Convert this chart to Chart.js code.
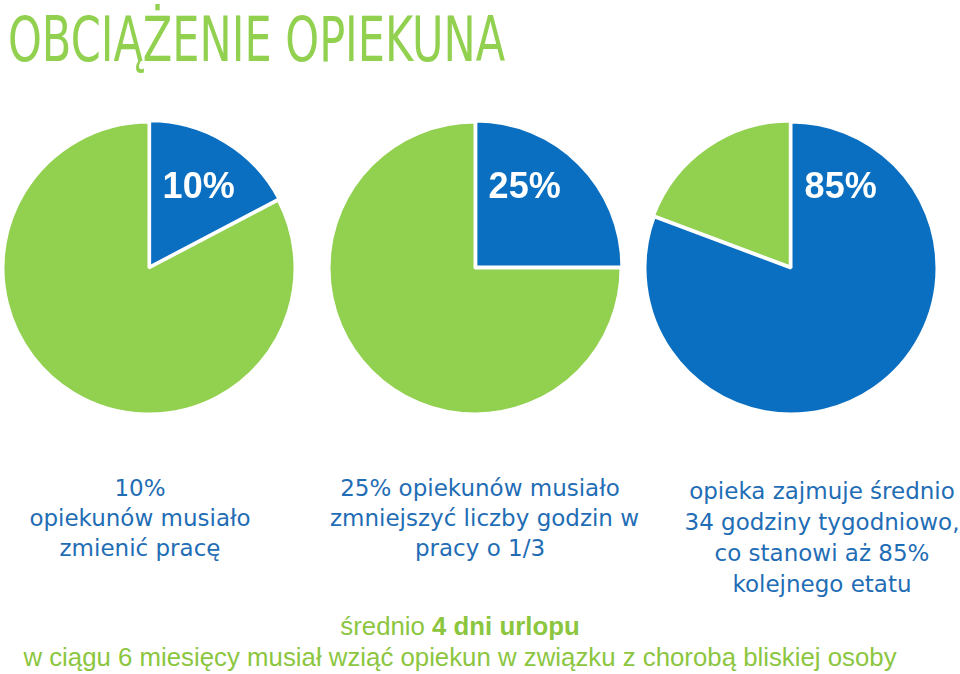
<!DOCTYPE html>
<html lang="pl">
<head>
  <meta charset="UTF-8">
  <title>Obciążenie opiekuna</title>
  <script src="https://cdn.jsdelivr.net/npm/chart.js"></script>
  <style>
    body {
      margin: 0;
      background: #ffffff;
      width: 960px;
      height: 674px;
      position: relative;
      overflow: hidden;
      font-family: "DejaVu Sans", sans-serif;
    }
    #title {
      position: absolute;
      left: 8px;
      top: 9px;
      font-size: 62px;
      line-height: 62px;
      color: #92d050;
      white-space: nowrap;
      transform-origin: 0 0;
    }
    .pie-box {
      position: absolute;
      top: 118px;
      width: 300px;
      height: 300px;
    }
    .caption {
      position: absolute;
      text-align: center;
      color: #1f6db5;
      font-size: 23px;
      white-space: nowrap;
    }
    .note {
      position: absolute;
      left: 0;
      width: 920px;
      top: 611px;
      text-align: center;
      color: #8cc63f;
      font-family: "Liberation Sans", Arial, sans-serif;
      font-size: 25.8px;
      line-height: 31px;
      white-space: nowrap;
    }
  </style>
</head>
<body>
  <div id="title">OBCIĄŻENIE OPIEKUNA</div>

  <div class="pie-box" style="left:-1px"><canvas id="pie1"></canvas></div>
  <div class="pie-box" style="left:325px"><canvas id="pie2"></canvas></div>
  <div class="pie-box" style="left:641px"><canvas id="pie3"></canvas></div>

  <div class="caption" style="left:0; width:280px; top:473px; line-height:30px;">10%<br>opiekunów musiało<br>zmienić pracę</div>
  <div class="caption" style="left:330px; width:300px; top:473px; line-height:30px;">25% opiekunów musiało<br>zmniejszyć liczby godzin w<br>pracy o 1/3</div>
  <div class="caption" style="left:672px; width:300px; top:476px; line-height:31px;">opieka zajmuje średnio<br>34 godziny tygodniowo,<br>co stanowi aż 85%<br>kolejnego etatu</div>

  <div class="note">średnio <b>4 dni urlopu</b><br>w ciągu 6 miesięcy musiał wziąć opiekun w związku z chorobą bliskiej osoby</div>

  <script>
    // dane (wielkości wycinków)
    const pie1Values = [17.3, 82.7];
    const pie2Values = [25, 75];
    const pie3Values = [80.7, 19.3];
    const pieTexts = ['10%', '25%', '85%'];

    const BLUE = '#0a6fc0';
    const GREEN = '#92d050';

    // dopasowanie szerokości tytułu
    const title = document.getElementById('title');
    title.style.transform = 'scaleX(' + (497 / title.scrollWidth) + ')';

    const percentLabel = {
      id: 'percentLabel',
      afterDatasetsDraw(chart, args, opts) {
        const arc = chart.getDatasetMeta(0).data[0];
        const r = arc.outerRadius;
        const ctx = chart.ctx;
        ctx.save();
        ctx.fillStyle = '#ffffff';
        ctx.font = 'bold 36px "Liberation Sans", Arial, sans-serif';
        ctx.textAlign = 'center';
        ctx.textBaseline = 'middle';
        ctx.fillText(opts.text, arc.x + r * 0.34, arc.y - r * 0.55);
        ctx.restore();
      }
    };

    function makePie(id, values, colors, offsets, text) {
      return new Chart(document.getElementById(id), {
        type: 'pie',
        data: {
          labels: ['a', 'b'],
          datasets: [{
            data: values,
            backgroundColor: colors,
            borderColor: '#ffffff',
            borderWidth: 3,
            offset: offsets
          }]
        },
        options: {
          responsive: true,
          maintainAspectRatio: false,
          animation: false,
          layout: { padding: 0 },
          plugins: {
            legend: { display: false },
            tooltip: { enabled: false },
            percentLabel: { text: text }
          }
        },
        plugins: [percentLabel]
      });
    }

    makePie('pie1', pie1Values, [BLUE, GREEN], [5, 0], pieTexts[0]);
    makePie('pie2', pie2Values, [BLUE, GREEN], [5, 0], pieTexts[1]);
    makePie('pie3', pie3Values, [BLUE, GREEN], [0, 5], pieTexts[2]);
  </script>
</body>
</html>
